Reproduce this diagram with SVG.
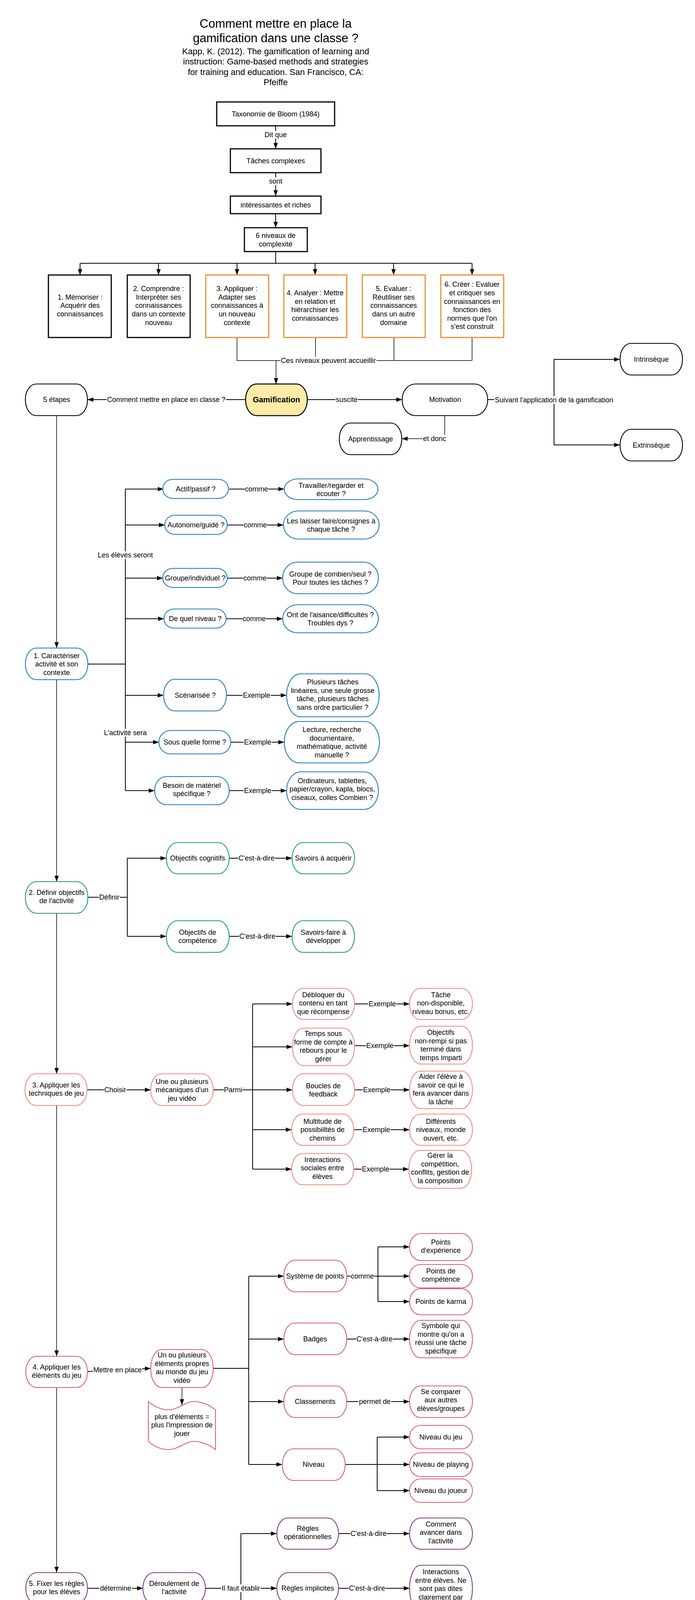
<svg xmlns="http://www.w3.org/2000/svg" width="1780" height="4295" viewBox="0 0 1780 4295">
<style>
.t{font-family:"Liberation Sans",Arial,Helvetica,sans-serif;font-size:18px;text-anchor:middle;fill:#000}
.title{font-size:31px}
.sub{font-size:22px}
.bold{font-weight:bold;font-size:20px}
.box{fill:#fff;stroke:#000;stroke-width:3}
.rn{fill:#fff;stroke-width:2.2}
.k{stroke:#000}
.bl{stroke:#1F7BC1}
.gr{stroke:#1E9B80}
.sa{stroke:#F8877B}
.pk{stroke:#E05A86}
.pu{stroke:#7D3D8D}
.or{fill:#fff;stroke:#EF8F2E;stroke-width:3}
.gam{fill:#FFEBA8;stroke:#000;stroke-width:2.5}
.c{fill:none;stroke:#000;stroke-width:2}
.th{stroke-width:1.5}
.lb{fill:#fff}
</style>
<defs>
<marker id="a" markerUnits="userSpaceOnUse" markerWidth="16" markerHeight="12" refX="15" refY="6" orient="auto"><path d="M0,0.5 L15,6 L0,11.5 z" fill="#000"/></marker>
</defs>
<rect x="0" y="0" width="1780" height="4295" fill="#fff"/>

<g id="title">
<text class="t title" x="706" y="71">Comment mettre en place la</text>
<text class="t title" x="706" y="108">gamification dans une classe ?</text>
<text class="t sub" x="706" y="139">Kapp, K. (2012). The gamification of learning and</text>
<text class="t sub" x="706" y="165">instruction: Game-based methods and strategies</text>
<text class="t sub" x="706" y="192">for training and education. San Francisco, CA:</text>
<text class="t sub" x="706" y="218">Pfeiffe</text>
</g>

<g id="connectors">
<path class="c" d="M706,322V381" marker-end="url(#a)"/>
<path class="c" d="M706,442V502" marker-end="url(#a)"/>
<path class="c" d="M706,547V583" marker-end="url(#a)"/>
<path class="c" d="M706,644V674"/>
<path class="c" d="M205,674H1209"/>
<path class="c" d="M205,674V704" marker-end="url(#a)"/>
<path class="c" d="M406,674V704" marker-end="url(#a)"/>
<path class="c" d="M607,674V704" marker-end="url(#a)"/>
<path class="c" d="M807,674V704" marker-end="url(#a)"/>
<path class="c" d="M1008,674V704" marker-end="url(#a)"/>
<path class="c" d="M1209,674V704" marker-end="url(#a)"/>
<path class="c th" d="M607,864V923H1209"/>
<path class="c th" d="M808,864V923"/>
<path class="c th" d="M1009,864V923"/>
<path class="c th" d="M1209,864V923"/>
<path class="c th" d="M707,923V983" marker-end="url(#a)"/>
<path class="c" d="M629,1023H224" marker-end="url(#a)"/>
<path class="c" d="M787,1023H1030" marker-end="url(#a)"/>
<path class="c" d="M1249,1023H1419"/>
<path class="c" d="M1419,1023V920H1588" marker-end="url(#a)"/>
<path class="c" d="M1419,1023V1139H1588" marker-end="url(#a)"/>
<path class="c th" d="M1139,1064V1123H1029" marker-end="url(#a)"/>
<path class="c th" d="M145,1064V1659" marker-end="url(#a)"/>
<path class="c th" d="M145,1740V2257" marker-end="url(#a)"/>
<path class="c th" d="M145,2338V2749" marker-end="url(#a)"/>
<path class="c th" d="M145,2830V3472" marker-end="url(#a)"/>
<path class="c th" d="M145,3552V4026" marker-end="url(#a)"/>

<path class="c" d="M321,1252V2024"/>
<path class="c" d="M225,1700H321"/>
<path class="c" d="M321,1252H419" marker-end="url(#a)"/>
<path class="c" d="M321,1344H422" marker-end="url(#a)"/>
<path class="c" d="M321,1480H417" marker-end="url(#a)"/>
<path class="c" d="M321,1584H420" marker-end="url(#a)"/>
<path class="c" d="M321,1780H419" marker-end="url(#a)"/>
<path class="c" d="M321,1900H407" marker-end="url(#a)"/>
<path class="c" d="M321,2024H396" marker-end="url(#a)"/>
<path class="c" d="M587,1252H728" marker-end="url(#a)"/>
<path class="c" d="M582,1344H726" marker-end="url(#a)"/>
<path class="c" d="M582,1480H724" marker-end="url(#a)"/>
<path class="c" d="M579,1584H724" marker-end="url(#a)"/>
<path class="c" d="M580,1780H734" marker-end="url(#a)"/>
<path class="c" d="M591,1900H728" marker-end="url(#a)"/>
<path class="c" d="M587,2024H734" marker-end="url(#a)"/>

<path class="c" d="M225,2297H326"/>
<path class="c" d="M326,2197V2397"/>
<path class="c" d="M326,2197H426" marker-end="url(#a)"/>
<path class="c" d="M326,2397H426" marker-end="url(#a)"/>
<path class="c" d="M587,2197H748" marker-end="url(#a)"/>
<path class="c" d="M587,2397H748" marker-end="url(#a)"/>

<path class="c" d="M224,2790H386" marker-end="url(#a)"/>
<path class="c" d="M546,2790H647"/>
<path class="c" d="M647,2570V2993"/>
<path class="c" d="M647,2570H749" marker-end="url(#a)"/>
<path class="c" d="M647,2680H749" marker-end="url(#a)"/>
<path class="c" d="M647,2790H749" marker-end="url(#a)"/>
<path class="c" d="M647,2892H747" marker-end="url(#a)"/>
<path class="c" d="M647,2993H747" marker-end="url(#a)"/>
<path class="c" d="M908,2570H1049" marker-end="url(#a)"/>
<path class="c" d="M908,2677H1049" marker-end="url(#a)"/>
<path class="c" d="M908,2790H1049" marker-end="url(#a)"/>
<path class="c" d="M906,2892H1049" marker-end="url(#a)"/>
<path class="c" d="M906,2993H1047" marker-end="url(#a)"/>

<path class="c" d="M224,3511L386,3503" marker-end="url(#a)"/>
<path class="c th" d="M466,3552V3597" marker-end="url(#a)"/>
<path class="c" d="M546,3503H637"/>
<path class="c" d="M637,3267V3749"/>
<path class="c" d="M637,3267H727" marker-end="url(#a)"/>
<path class="c" d="M637,3428H727" marker-end="url(#a)"/>
<path class="c" d="M637,3588H727" marker-end="url(#a)"/>
<path class="c" d="M637,3749H723" marker-end="url(#a)"/>
<path class="c" d="M888,3267H968"/>
<path class="c" d="M968,3192V3332"/>
<path class="c" d="M968,3192H1049" marker-end="url(#a)"/>
<path class="c" d="M968,3267H1049" marker-end="url(#a)"/>
<path class="c" d="M968,3332H1049" marker-end="url(#a)"/>
<path class="c" d="M888,3428H1049" marker-end="url(#a)"/>
<path class="c" d="M888,3588H1049" marker-end="url(#a)"/>
<path class="c" d="M884,3749H966"/>
<path class="c" d="M966,3679V3816"/>
<path class="c" d="M966,3679H1049" marker-end="url(#a)"/>
<path class="c" d="M966,3749H1049" marker-end="url(#a)"/>
<path class="c" d="M966,3816H1049" marker-end="url(#a)"/>

<path class="c" d="M224,4066H366" marker-end="url(#a)"/>
<path class="c" d="M526,4066H709" marker-end="url(#a)"/>
<path class="c" d="M617,3926V4206"/>
<path class="c" d="M617,3926H709" marker-end="url(#a)"/>
<path class="c" d="M617,4206H709" marker-end="url(#a)"/>
<path class="c" d="M867,3926H1049" marker-end="url(#a)"/>
<path class="c" d="M867,4066H1049" marker-end="url(#a)"/>
<path class="c" d="M867,4206H1049" marker-end="url(#a)"/>

<g id="labels">
<rect class="lb" x="676" y="335" width="60" height="20"/><text class="t" x="706" y="351">Dit que</text>
<rect class="lb" x="687" y="454" width="38" height="20"/><text class="t" x="706" y="470">sont</text>
<rect class="lb" x="718" y="913" width="246" height="20"/><text class="t" x="841" y="929">Ces niveaux peuvent accueillir</text>
<rect class="lb" x="273" y="1013" width="306" height="20"/><text class="t" x="426" y="1029">Comment mettre en place en classe ?</text>
<rect class="lb" x="859" y="1013" width="58" height="20"/><text class="t" x="888" y="1029">suscite</text>
<rect class="lb" x="1266" y="1014" width="306" height="20"/><text class="t" x="1419" y="1030">Suivant l'application de la gamification</text>
<rect class="lb" x="1082" y="1113" width="62" height="20"/><text class="t" x="1113" y="1129">et donc</text>
<rect class="lb" x="627" y="1242" width="60" height="20"/><text class="t" x="657" y="1258">comme</text>
<rect class="lb" x="624" y="1334" width="60" height="20"/><text class="t" x="654" y="1350">comme</text>
<rect class="lb" x="623" y="1470" width="60" height="20"/><text class="t" x="653" y="1486">comme</text>
<rect class="lb" x="621" y="1574" width="60" height="20"/><text class="t" x="651" y="1590">comme</text>
<rect class="lb" x="249" y="1411" width="144" height="20"/><text class="t" x="321" y="1427">Les élèves seront</text>
<rect class="lb" x="265" y="1866" width="112" height="20"/><text class="t" x="321" y="1882">L'activité sera</text>
<rect class="lb" x="621" y="1770" width="72" height="20"/><text class="t" x="657" y="1786">Exemple</text>
<rect class="lb" x="624" y="1890" width="72" height="20"/><text class="t" x="660" y="1906">Exemple</text>
<rect class="lb" x="624" y="2014" width="72" height="20"/><text class="t" x="660" y="2030">Exemple</text>
<rect class="lb" x="253" y="2287" width="54" height="20"/><text class="t" x="280" y="2303">Définir</text>
<rect class="lb" x="610" y="2187" width="94" height="20"/><text class="t" x="657" y="2203">C'est-à-dire</text>
<rect class="lb" x="612" y="2387" width="94" height="20"/><text class="t" x="659" y="2403">C'est-à-dire</text>
<rect class="lb" x="266" y="2780" width="58" height="20"/><text class="t" x="295" y="2796">Choisir</text>
<rect class="lb" x="573" y="2780" width="48" height="20"/><text class="t" x="597" y="2796">Parmi</text>
<rect class="lb" x="943" y="2560" width="72" height="20"/><text class="t" x="979" y="2576">Exemple</text>
<rect class="lb" x="937" y="2667" width="72" height="20"/><text class="t" x="973" y="2683">Exemple</text>
<rect class="lb" x="929" y="2780" width="72" height="20"/><text class="t" x="965" y="2796">Exemple</text>
<rect class="lb" x="928" y="2882" width="72" height="20"/><text class="t" x="964" y="2898">Exemple</text>
<rect class="lb" x="926" y="2983" width="72" height="20"/><text class="t" x="962" y="2999">Exemple</text>
<rect class="lb" x="238" y="3497" width="126" height="20"/><text class="t" x="301" y="3513">Mettre en place</text>
<rect class="lb" x="898" y="3257" width="60" height="20"/><text class="t" x="928" y="3273">comme</text>
<rect class="lb" x="912" y="3418" width="94" height="20"/><text class="t" x="959" y="3434">C'est-à-dire</text>
<rect class="lb" x="918" y="3578" width="84" height="20"/><text class="t" x="960" y="3594">permet de</text>
<rect class="lb" x="254" y="4056" width="84" height="20"/><text class="t" x="296" y="4072">détermine</text>
<rect class="lb" x="567" y="4056" width="100" height="20"/><text class="t" x="617" y="4072">Il faut établir</text>
<rect class="lb" x="897" y="3916" width="94" height="20"/><text class="t" x="944" y="3932">C'est-à-dire</text>
<rect class="lb" x="893" y="4056" width="94" height="20"/><text class="t" x="940" y="4072">C'est-à-dire</text>
<rect class="lb" x="900" y="4196" width="94" height="20"/><text class="t" x="947" y="4212">C'est-à-dire</text>
</g>
</g>

<g id="n_taxonomie"><rect class="box" x="555" y="261" width="302" height="61"/><text class="t" x="706" y="298">Taxonomie de Bloom (1984)</text></g>
<g id="n_taches"><rect class="box" x="590" y="381" width="232" height="61"/><text class="t" x="706" y="418">Tâches complexes</text></g>
<g id="n_interessantes"><rect class="box" x="590" y="502" width="232" height="45"/><text class="t" x="706" y="531">intéressantes et riches</text></g>
<g id="n_6niveaux"><rect class="box" x="626" y="583" width="161" height="61"/><text class="t" x="706" y="609"><tspan x="706">6 niveaux de</tspan><tspan x="706" dy="21.6">complexité</tspan></text></g>

<g id="n_memoriser"><rect class="box" x="124" y="704" width="161" height="160"/><text class="t" x="205" y="766.7"><tspan x="205">1. Mémoriser :</tspan><tspan x="205" dy="21.6">Acquérir des</tspan><tspan x="205" dy="21.6">connaissances</tspan></text></g>
<g id="n_comprendre"><rect class="box" x="326" y="704" width="161" height="160"/><text class="t" x="406" y="745.1"><tspan x="406">2. Comprendre :</tspan><tspan x="406" dy="21.6">Interpréter ses</tspan><tspan x="406" dy="21.6">connaissances</tspan><tspan x="406" dy="21.6">dans un contexte</tspan><tspan x="406" dy="21.6">nouveau</tspan></text></g>
<g id="n_appliquer"><rect class="or" x="527" y="704" width="161" height="160"/><text class="t" x="607" y="745.1"><tspan x="607">3. Appliquer :</tspan><tspan x="607" dy="21.6">Adapter ses</tspan><tspan x="607" dy="21.6">connaissances à</tspan><tspan x="607" dy="21.6">un nouveau</tspan><tspan x="607" dy="21.6">contexte</tspan></text></g>
<g id="n_analyser"><rect class="or" x="727" y="704" width="161" height="160"/><text class="t" x="807" y="755.9"><tspan x="807">4. Analyer : Mettre</tspan><tspan x="807" dy="21.6">en relation et</tspan><tspan x="807" dy="21.6">hiérarchiser les</tspan><tspan x="807" dy="21.6">connaissances</tspan></text></g>
<g id="n_evaluer"><rect class="or" x="928" y="704" width="161" height="160"/><text class="t" x="1008" y="745.1"><tspan x="1008">5. Evaluer :</tspan><tspan x="1008" dy="21.6">Réutiliser ses</tspan><tspan x="1008" dy="21.6">connaissances</tspan><tspan x="1008" dy="21.6">dans un autre</tspan><tspan x="1008" dy="21.6">domaine</tspan></text></g>
<g id="n_creer"><rect class="or" x="1129" y="704" width="161" height="160"/><text class="t" x="1209" y="734.3"><tspan x="1209">6. Créer : Evaluer</tspan><tspan x="1209" dy="21.6">et critiquer ses</tspan><tspan x="1209" dy="21.6">connaissances en</tspan><tspan x="1209" dy="21.6">fonction des</tspan><tspan x="1209" dy="21.6">normes que l'on</tspan><tspan x="1209" dy="21.6">s'est construit</tspan></text></g>

<g id="n_gamification"><rect class="gam" x="629" y="983" width="158" height="81" rx="28" ry="40"/><text class="t bold" x="708" y="1030">Gamification</text></g>
<g id="n_etapes"><rect class="rn k" x="65" y="983" width="159" height="81" rx="28" ry="40"/><text class="t" x="145" y="1029">5 étapes</text></g>
<g id="n_motivation"><rect class="rn k" x="1030" y="983" width="219" height="81" rx="34" ry="40"/><text class="t" x="1140" y="1029">Motivation</text></g>
<g id="n_apprentissage"><rect class="rn k" x="869" y="1083" width="160" height="81" rx="28" ry="40"/><text class="t" x="949" y="1130">Apprentissage</text></g>
<g id="n_intrinseque"><rect class="rn k" x="1588" y="879" width="160" height="81" rx="28" ry="40"/><text class="t" x="1668" y="926">Intrinsèque</text></g>
<g id="n_extrinseque"><rect class="rn k" x="1588" y="1099" width="160" height="81" rx="28" ry="40"/><text class="t" x="1668" y="1146">Extrinsèque</text></g>

<g id="n_s1"><rect class="rn bl" x="65" y="1659" width="160" height="81" rx="28" ry="40"/><text class="t" x="145" y="1684.7"><tspan x="145">1. Caractériser</tspan><tspan x="145" dy="21.6">activité et son</tspan><tspan x="145" dy="21.6">contexte</tspan></text></g>
<g id="n_actif"><rect class="rn bl" x="417" y="1227" width="168" height="49" rx="26" ry="24"/><text class="t" x="501" y="1257.5">Actif/passif ?</text></g>
<g id="n_travailler"><rect class="rn bl" x="728" y="1226" width="240" height="53" rx="36" ry="26"/><text class="t" x="848" y="1248.5"><tspan x="848">Travailler/regarder et</tspan><tspan x="848" dy="21.6">écouter ?</tspan></text></g>
<g id="n_autonome"><rect class="rn bl" x="422" y="1319" width="160" height="49" rx="26" ry="24"/><text class="t" x="502" y="1350.3">Autonome/guidé ?</text></g>
<g id="n_laisser"><rect class="rn bl" x="726" y="1308" width="245" height="72" rx="38" ry="36"/><text class="t" x="848" y="1339.5"><tspan x="848">Les laisser faire/consignes à</tspan><tspan x="848" dy="21.6">chaque tâche ?</tspan></text></g>
<g id="n_groupe"><rect class="rn bl" x="417" y="1455" width="165" height="49" rx="26" ry="24"/><text class="t" x="500" y="1486.3">Groupe/individuel ?</text></g>
<g id="n_combien"><rect class="rn bl" x="724" y="1439" width="245" height="81" rx="38" ry="40"/><text class="t" x="846" y="1475.5"><tspan x="846">Groupe de combien/seul ?</tspan><tspan x="846" dy="21.6">Pour toutes les tâches ?</tspan></text></g>
<g id="n_niveau1"><rect class="rn bl" x="420" y="1559" width="159" height="49" rx="26" ry="24"/><text class="t" x="500" y="1590.3">De quel niveau ?</text></g>
<g id="n_aisance"><rect class="rn bl" x="724" y="1548" width="245" height="72" rx="38" ry="36"/><text class="t" x="846" y="1579.5"><tspan x="846">Ont de l'aisance/difficultés ?</tspan><tspan x="846" dy="21.6">Troubles dys ?</tspan></text></g>
<g id="n_scenarisee"><rect class="rn bl" x="419" y="1739" width="161" height="81" rx="28" ry="40"/><text class="t" x="500" y="1786.3">Scénarisée ?</text></g>
<g id="n_plusieurs"><rect class="rn bl" x="734" y="1725" width="237" height="110" rx="36" ry="55"/><text class="t" x="852" y="1751.9"><tspan x="852">Plusieurs tâches</tspan><tspan x="852" dy="21.6">linéaires, une seule grosse</tspan><tspan x="852" dy="21.6">tâche, plusieurs tâches</tspan><tspan x="852" dy="21.6">sans ordre particulier  ?</tspan></text></g>
<g id="n_forme"><rect class="rn bl" x="407" y="1870" width="184" height="60" rx="30" ry="30"/><text class="t" x="499" y="1906.3">Sous quelle forme ?</text></g>
<g id="n_lecture"><rect class="rn bl" x="728" y="1847" width="244" height="106" rx="38" ry="53"/><text class="t" x="850" y="1873.9"><tspan x="850">Lecture, recherche</tspan><tspan x="850" dy="21.6">documentaire,</tspan><tspan x="850" dy="21.6">mathématique, activité</tspan><tspan x="850" dy="21.6">manuelle ?</tspan></text></g>
<g id="n_besoin"><rect class="rn bl" x="396" y="1988" width="191" height="72" rx="30" ry="36"/><text class="t" x="491" y="2016.5"><tspan x="491">Besoin de matériel</tspan><tspan x="491" dy="21.6">spécifique ?</tspan></text></g>
<g id="n_ordinateurs"><rect class="rn bl" x="734" y="1976" width="235" height="96" rx="36" ry="48"/><text class="t" x="851" y="2004.7"><tspan x="851">Ordinateurs, tablettes,</tspan><tspan x="851" dy="21.6">papier/crayon, kapla, blocs,</tspan><tspan x="851" dy="21.6">ciseaux, colles Combien ?</tspan></text></g>

<g id="n_s2"><rect class="rn gr" x="65" y="2257" width="160" height="81" rx="28" ry="40"/><text class="t" x="145" y="2290.5"><tspan x="145">2. Définir objectifs</tspan><tspan x="145" dy="21.6">de l'activité</tspan></text></g>
<g id="n_cognitifs"><rect class="rn gr" x="426" y="2157" width="161" height="80" rx="28" ry="40"/><text class="t" x="506" y="2203.3">Objectifs cognitifs</text></g>
<g id="n_savoirs"><rect class="rn gr" x="748" y="2157" width="160" height="80" rx="28" ry="40"/><text class="t" x="828" y="2203.3">Savoirs à acquérir</text></g>
<g id="n_competence"><rect class="rn gr" x="426" y="2357" width="161" height="81" rx="28" ry="40"/><text class="t" x="506" y="2392.5"><tspan x="506">Objectifs de</tspan><tspan x="506" dy="21.6">compétence</tspan></text></g>
<g id="n_savoirsfaire"><rect class="rn gr" x="748" y="2357" width="160" height="81" rx="28" ry="40"/><text class="t" x="828" y="2392.5"><tspan x="828">Savoirs-faire à</tspan><tspan x="828" dy="21.6">développer</tspan></text></g>

<g id="n_s3"><rect class="rn sa" x="64" y="2749" width="159" height="81" rx="28" ry="40"/><text class="t" x="144" y="2783.5"><tspan x="144">3. Appliquer les</tspan><tspan x="144" dy="21.6">techniques de jeu</tspan></text></g>
<g id="n_mecaniques"><rect class="rn sa" x="386" y="2749" width="160" height="81" rx="28" ry="40"/><text class="t" x="466" y="2774.7"><tspan x="466">Une ou plusieurs</tspan><tspan x="466" dy="21.6">mécaniques d'un</tspan><tspan x="466" dy="21.6">jeu vidéo</tspan></text></g>
<g id="n_debloquer"><rect class="rn sa" x="749" y="2530" width="159" height="80" rx="28" ry="40"/><text class="t" x="828" y="2552.7"><tspan x="828">Débloquer du</tspan><tspan x="828" dy="21.6">contenu en tant</tspan><tspan x="828" dy="21.6">que récompense</tspan></text></g>
<g id="n_tache"><rect class="rn sa" x="1049" y="2530" width="161" height="80" rx="28" ry="40"/><text class="t" x="1129" y="2552.7"><tspan x="1129">Tâche</tspan><tspan x="1129" dy="21.6">non-disponible,</tspan><tspan x="1129" dy="21.6">niveau bonus, etc.</tspan></text></g>
<g id="n_temps"><rect class="rn sa" x="749" y="2632" width="159" height="96" rx="28" ry="48"/><text class="t" x="828" y="2651.9"><tspan x="828">Temps sous</tspan><tspan x="828" dy="21.6">forme de compte à</tspan><tspan x="828" dy="21.6">rebours pour le</tspan><tspan x="828" dy="21.6">gérer</tspan></text></g>
<g id="n_objectifs"><rect class="rn sa" x="1049" y="2627" width="161" height="97" rx="28" ry="48"/><text class="t" x="1129" y="2648.9"><tspan x="1129">Objectifs</tspan><tspan x="1129" dy="21.6">non-rempi si pas</tspan><tspan x="1129" dy="21.6">terminé dans</tspan><tspan x="1129" dy="21.6">temps imparti</tspan></text></g>
<g id="n_boucles"><rect class="rn sa" x="749" y="2749" width="159" height="81" rx="28" ry="40"/><text class="t" x="828" y="2785.5"><tspan x="828">Boucles de</tspan><tspan x="828" dy="21.6">feedback</tspan></text></g>
<g id="n_aider"><rect class="rn sa" x="1049" y="2742" width="161" height="96" rx="28" ry="48"/><text class="t" x="1129" y="2761.9"><tspan x="1129">Aider l'élève à</tspan><tspan x="1129" dy="21.6">savoir ce qui le</tspan><tspan x="1129" dy="21.6">fera avancer dans</tspan><tspan x="1129" dy="21.6">la tâche</tspan></text></g>
<g id="n_multitude"><rect class="rn sa" x="747" y="2852" width="159" height="80" rx="28" ry="40"/><text class="t" x="826" y="2876.7"><tspan x="826">Multitude de</tspan><tspan x="826" dy="21.6">possibiiltés de</tspan><tspan x="826" dy="21.6">chemins</tspan></text></g>
<g id="n_differents"><rect class="rn sa" x="1049" y="2852" width="161" height="80" rx="28" ry="40"/><text class="t" x="1129" y="2876.7"><tspan x="1129">Différents</tspan><tspan x="1129" dy="21.6">niveaux, monde</tspan><tspan x="1129" dy="21.6">ouvert, etc.</tspan></text></g>
<g id="n_interactions"><rect class="rn sa" x="747" y="2953" width="159" height="80" rx="28" ry="40"/><text class="t" x="826" y="2974.7"><tspan x="826">Interactions</tspan><tspan x="826" dy="21.6">sociales entre</tspan><tspan x="826" dy="21.6">élèves</tspan></text></g>
<g id="n_gerer"><rect class="rn sa" x="1047" y="2945" width="161" height="97" rx="28" ry="48"/><text class="t" x="1127" y="2963.9"><tspan x="1127">Gérer la</tspan><tspan x="1127" dy="21.6">compétition,</tspan><tspan x="1127" dy="21.6">conflits, gestion de</tspan><tspan x="1127" dy="21.6">la composition</tspan></text></g>

<g id="n_s4"><rect class="rn pk" x="66" y="3472" width="158" height="80" rx="28" ry="40"/><text class="t" x="145" y="3505.5"><tspan x="145">4. Appliquer les</tspan><tspan x="145" dy="21.6">éléments du jeu</tspan></text></g>
<g id="n_elements"><rect class="rn pk" x="386" y="3455" width="160" height="97" rx="28" ry="48"/><text class="t" x="466" y="3474.9"><tspan x="466">Un ou plusieurs</tspan><tspan x="466" dy="21.6">éléments propres</tspan><tspan x="466" dy="21.6">au monde du jeu</tspan><tspan x="466" dy="21.6">vidéo</tspan></text></g>
<g id="n_doc"><path class="rn pk" d="M380,3588 C398,3604 415,3609 433,3609 C455,3609 475,3588 497,3588 C518,3588 538,3598 552,3609 L552,3711 C538,3700 518,3690 497,3690 C475,3690 455,3711 433,3711 C415,3711 398,3706 380,3690 Z"/><text class="t" x="466" y="3632.7"><tspan x="466">plus d'éléments =</tspan><tspan x="466" dy="21.6">plus l'impression de</tspan><tspan x="466" dy="21.6">jouer</tspan></text></g>
<g id="n_points"><rect class="rn pk" x="727" y="3226" width="161" height="81" rx="28" ry="40"/><text class="t" x="807" y="3273.3">Système de points</text></g>
<g id="n_pexp"><rect class="rn pk" x="1049" y="3158" width="161" height="69" rx="28" ry="34"/><text class="t" x="1129" y="3185.5"><tspan x="1129">Points</tspan><tspan x="1129" dy="21.6">d'expérience</tspan></text></g>
<g id="n_pcomp"><rect class="rn pk" x="1049" y="3237" width="161" height="60" rx="28" ry="30"/><text class="t" x="1129" y="3259.5"><tspan x="1129">Points de</tspan><tspan x="1129" dy="21.6">compétence</tspan></text></g>
<g id="n_pkarma"><rect class="rn pk" x="1049" y="3299" width="161" height="67" rx="28" ry="33"/><text class="t" x="1129" y="3338.3">Points de karma</text></g>
<g id="n_badges"><rect class="rn pk" x="727" y="3387" width="161" height="81" rx="28" ry="40"/><text class="t" x="807" y="3434.3">Badges</text></g>
<g id="n_symbole"><rect class="rn pk" x="1049" y="3380" width="161" height="96" rx="28" ry="48"/><text class="t" x="1129" y="3399.9"><tspan x="1129">Symbole qui</tspan><tspan x="1129" dy="21.6">montre qu'on a</tspan><tspan x="1129" dy="21.6">réussi une tâche</tspan><tspan x="1129" dy="21.6">spécifique</tspan></text></g>
<g id="n_classements"><rect class="rn pk" x="727" y="3548" width="161" height="81" rx="28" ry="40"/><text class="t" x="807" y="3594.3">Classements</text></g>
<g id="n_comparer"><rect class="rn pk" x="1049" y="3548" width="161" height="81" rx="28" ry="40"/><text class="t" x="1129" y="3568.7"><tspan x="1129">Se comparer</tspan><tspan x="1129" dy="21.6">aux autres</tspan><tspan x="1129" dy="21.6">élèves/groupes</tspan></text></g>
<g id="n_niveau4"><rect class="rn pk" x="723" y="3709" width="161" height="81" rx="28" ry="40"/><text class="t" x="803" y="3755.3">Niveau</text></g>
<g id="n_njeu"><rect class="rn pk" x="1049" y="3649" width="161" height="60" rx="28" ry="30"/><text class="t" x="1129" y="3685.3">Niveau du jeu</text></g>
<g id="n_nplaying"><rect class="rn pk" x="1049" y="3719" width="161" height="61" rx="28" ry="30"/><text class="t" x="1129" y="3755.3">Niveau de playing</text></g>
<g id="n_njoueur"><rect class="rn pk" x="1049" y="3786" width="161" height="60" rx="28" ry="30"/><text class="t" x="1129" y="3822.3">Niveau du joueur</text></g>

<g id="n_s5"><rect class="rn pu" x="66" y="4026" width="158" height="80" rx="28" ry="40"/><text class="t" x="145" y="4059.5"><tspan x="145">5. Fixer les règles</tspan><tspan x="145" dy="21.6">pour les élèves</tspan></text></g>
<g id="n_deroulement"><rect class="rn pu" x="366" y="4026" width="160" height="80" rx="28" ry="40"/><text class="t" x="446" y="4059.5"><tspan x="446">Déroulement de</tspan><tspan x="446" dy="21.6">l'activité</tspan></text></g>
<g id="n_regop"><rect class="rn pu" x="709" y="3886" width="158" height="80" rx="28" ry="40"/><text class="t" x="788" y="3918.5"><tspan x="788">Règles</tspan><tspan x="788" dy="21.6">opérationnelles</tspan></text></g>
<g id="n_comment"><rect class="rn pu" x="1049" y="3886" width="161" height="80" rx="28" ry="40"/><text class="t" x="1129" y="3907.7"><tspan x="1129">Comment</tspan><tspan x="1129" dy="21.6">avancer dans</tspan><tspan x="1129" dy="21.6">l'activité</tspan></text></g>
<g id="n_regimp"><rect class="rn pu" x="709" y="4026" width="158" height="80" rx="28" ry="40"/><text class="t" x="788" y="4072.3">Règles implicites</text></g>
<g id="n_interelev"><rect class="rn pu" x="1049" y="4007" width="161" height="118" rx="28" ry="59"/><text class="t" x="1129" y="4030.1"><tspan x="1129">Interactions</tspan><tspan x="1129" dy="21.6">entre élèves. Ne</tspan><tspan x="1129" dy="21.6">sont pas dites</tspan><tspan x="1129" dy="21.6">clairement par</tspan><tspan x="1129" dy="21.6">l'enseignant</tspan></text></g>
<g id="n_reginst"><rect class="rn pu" x="709" y="4166" width="158" height="80" rx="28" ry="40"/><text class="t" x="788" y="4198.5"><tspan x="788">Règles</tspan><tspan x="788" dy="21.6">d'instruction</tspan></text></g>
<g id="n_informations"><rect class="rn pu" x="1049" y="4158" width="161" height="96" rx="28" ry="48"/><text class="t" x="1129" y="4177.9"><tspan x="1129">Informations</tspan><tspan x="1129" dy="21.6">transmises à</tspan><tspan x="1129" dy="21.6">l'élève pendant</tspan><tspan x="1129" dy="21.6">l'activité</tspan></text></g>
</svg>
